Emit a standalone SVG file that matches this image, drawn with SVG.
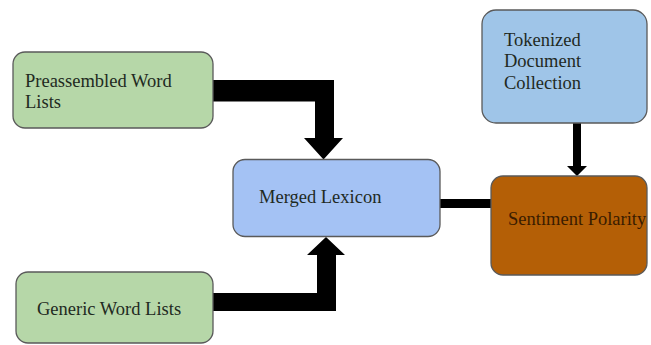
<svg xmlns="http://www.w3.org/2000/svg" width="651" height="345" viewBox="0 0 651 345">
<style>
.box{stroke:#5a5a5a;stroke-width:1.3}
.green{fill:#b6d7a8}
.blue{fill:#a4c2f4}
.lblue{fill:#9fc5e8}
.orange{fill:#b45f06}
text{font-family:"Liberation Serif","Times New Roman",serif;font-size:18.5px;fill:#1f2a1f}
.dark{fill:#3a1c00}
.conn{fill:#000}
</style>
<rect width="651" height="345" fill="#fff"/>
<g id="connectors">
<polygon class="conn" points="213,80 334,80 334,138 343,138 323.5,159.5 304,138 315,138 315,101.5 213,101.5"/>
<polygon class="conn" points="213,293 317,293 317,255 307,255 326,237 345,255 336,255 336,311 213,311"/>
<rect class="conn" x="440" y="199" width="51" height="9"/>
<polygon class="conn" points="573,122 581,122 581,166 587,166 577,176 567,166 573,166"/>
</g>
<g id="preassembled">
<rect class="box green" x="13" y="52" width="200" height="76" rx="12"/>
<text x="25" y="87">Preassembled Word</text>
<text x="25" y="108">Lists</text>
</g>
<g id="generic">
<rect class="box green" x="16" y="272" width="197" height="71" rx="12"/>
<text x="37" y="315">Generic Word Lists</text>
</g>
<g id="merged">
<rect class="box blue" x="233" y="159.5" width="207" height="77" rx="12"/>
<text x="259" y="203">Merged Lexicon</text>
</g>
<g id="tokenized">
<rect class="box lblue" x="482" y="10" width="165" height="113" rx="14"/>
<text x="504" y="46">Tokenized</text>
<text x="504" y="67">Document</text>
<text x="504" y="89">Collection</text>
</g>
<g id="sentiment">
<rect class="box orange" x="491" y="176" width="156" height="99" rx="12"/>
<text class="dark" x="508" y="225">Sentiment Polarity</text>
</g>
</svg>
